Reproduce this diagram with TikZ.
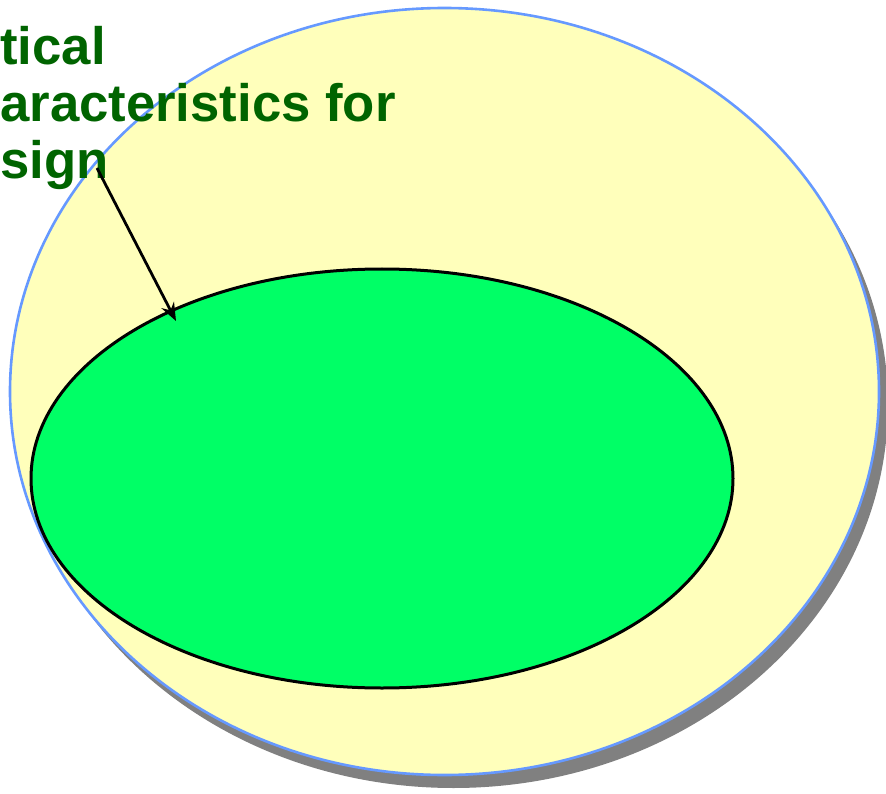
\documentclass[tikz,border=0pt]{standalone}
\usepackage{fontspec}
\setmainfont{Liberation Sans}
\usetikzlibrary{arrows.meta,shapes.geometric}
\definecolor{SetYellow}{HTML}{FFFFBB}
\definecolor{SetBlue}{HTML}{6699FF}
\definecolor{SetGreen}{HTML}{00FF66}
\definecolor{LabelGreen}{HTML}{006400}

\begin{document}
\begin{tikzpicture}[x=1pt, y=-1pt]
        \useasboundingbox (0,0) rectangle (886,794);
        \clip (0,0) rectangle (886,794);
        % outer set and its shadow
        \fill[gray] (453.5,404.5) ellipse [x radius=434.5, y radius=383.5];
        \filldraw[fill=SetYellow, draw=SetBlue, line width=2.6pt] (444.5,391.5) ellipse [x radius=434.5, y radius=383.5];
        % inner set
        \node[ellipse, draw, line width=3pt, fill=SetGreen, minimum width=702, minimum height=419, inner sep=0] (inner) at (382,478.5) {};
        \node[anchor=north west, align=left, text=LabelGreen, font=\bfseries\fontsize{52.7}{57}\selectfont, inner sep=0] (label) at (0,26) {tical\\aracteristics for\\sign};
        \coordinate (tail) at (97,168);
        \coordinate (tip) at (176,321);
        \draw[-{Stealth[length=18pt,width=14pt,inset=6pt]}, line width=2.8pt] (tail) -- (tip);
    \end{tikzpicture}
\end{document}
